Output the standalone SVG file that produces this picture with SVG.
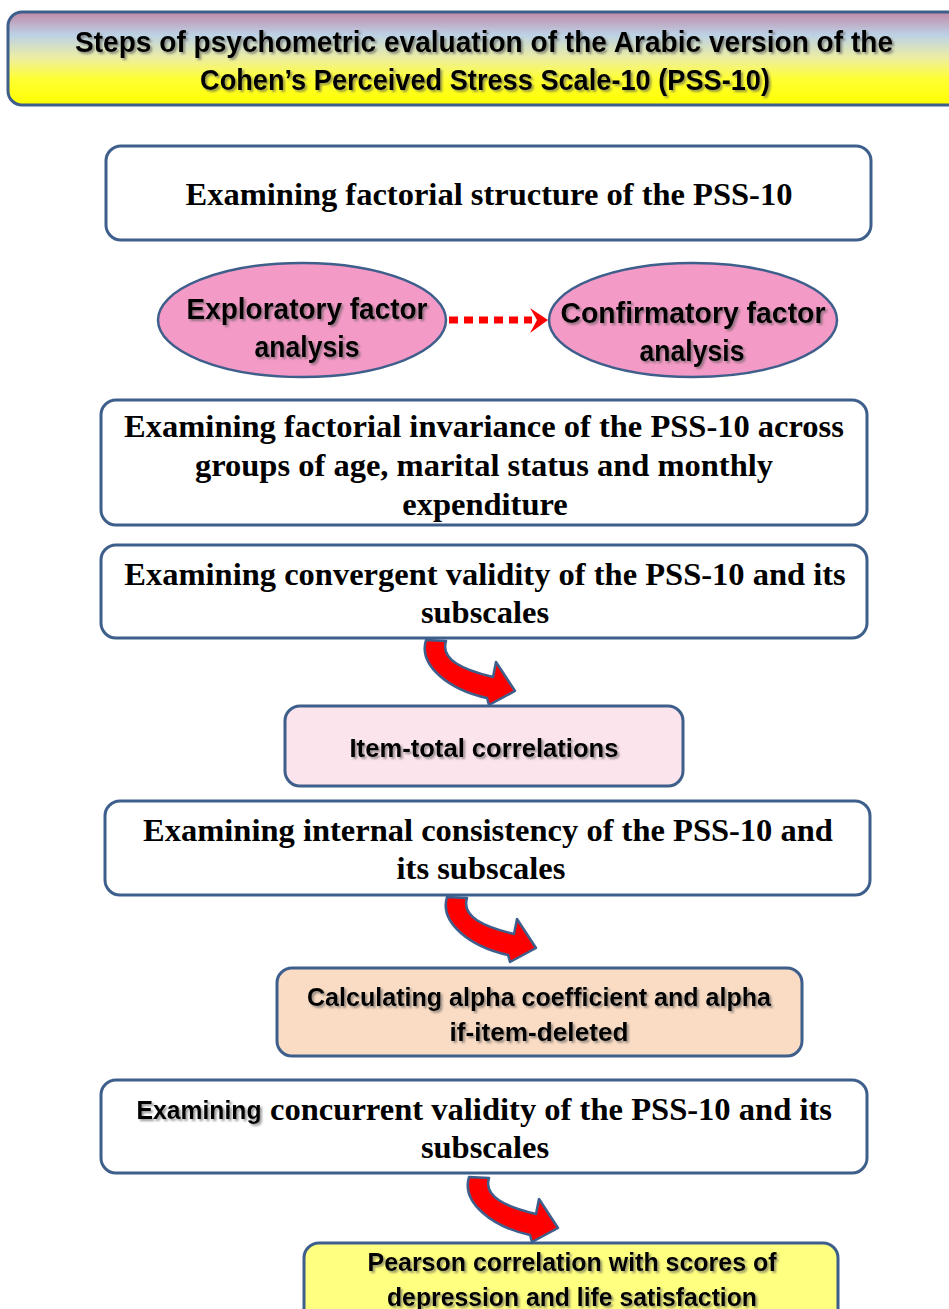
<svg xmlns="http://www.w3.org/2000/svg" width="949" height="1309" viewBox="0 0 949 1309">
<defs>
<linearGradient id="titleGrad" x1="0" y1="0" x2="0" y2="1">
<stop offset="0" stop-color="#c08aa8"/>
<stop offset="0.25" stop-color="#bcd2e6"/>
<stop offset="0.5" stop-color="#eeeea0"/>
<stop offset="0.72" stop-color="#ffff33"/>
<stop offset="1" stop-color="#ffff00"/>
</linearGradient>
<filter id="shadow" x="-5%" y="-20%" width="110%" height="150%">
<feDropShadow dx="2" dy="2" stdDeviation="1.2" flood-color="#555" flood-opacity="0.6"/>
</filter>
<path id="curveArrow" d="M 426,640 C 418,666 450,690 487,698 L 489,705 L 515,691 L 496,662 L 493,677 C 464,670 440,660 446,641 Z"/>
</defs>
<style>
.box{fill:#ffffff;stroke:#3e5f8c;stroke-width:3}
.ell{fill:#f49ac6;stroke:#3e5f8c;stroke-width:2.5}
.serif{font-family:"Liberation Serif","Times New Roman",serif;font-weight:bold;font-size:32.5px;fill:#000;text-anchor:middle}
.sans{font-family:"Liberation Sans",Arial,sans-serif;font-weight:bold;fill:#000;text-anchor:middle;filter:url(#shadow)}
.arrow{fill:#ff0000;stroke:#3e5f8c;stroke-width:2.5;stroke-linejoin:round}
</style>

<g id="title">
<rect x="8" y="12" width="960" height="93" rx="14" fill="url(#titleGrad)" stroke="#3e5f8c" stroke-width="3"/>
<text class="sans" x="484" y="52" font-size="29" textLength="818" lengthAdjust="spacingAndGlyphs">Steps of psychometric evaluation of the Arabic version of the</text>
<text class="sans" x="485" y="90" font-size="29" textLength="570" lengthAdjust="spacingAndGlyphs">Cohen’s Perceived Stress Scale-10 (PSS-10)</text>
</g>

<g id="factorial-structure">
<rect class="box" x="106" y="146" width="765" height="94" rx="15"/>
<text class="serif" x="489" y="205">Examining factorial structure of the PSS-10</text>
</g>

<g id="efa">
<ellipse class="ell" cx="302" cy="320" rx="144" ry="57"/>
<text class="sans" x="307" y="319" font-size="29" textLength="241" lengthAdjust="spacingAndGlyphs">Exploratory factor</text>
<text class="sans" x="307" y="357" font-size="29" textLength="105" lengthAdjust="spacingAndGlyphs">analysis</text>
</g>

<g id="cfa">
<ellipse class="ell" cx="693" cy="320" rx="144" ry="57"/>
<text class="sans" x="693" y="323" font-size="29" textLength="265" lengthAdjust="spacingAndGlyphs">Confirmatory factor</text>
<text class="sans" x="692" y="361" font-size="29" textLength="105" lengthAdjust="spacingAndGlyphs">analysis</text>
</g>

<g id="factorial-invariance">
<rect class="box" x="101" y="400" width="766" height="125" rx="15"/>
<text class="serif" x="484" y="437">Examining factorial invariance of the PSS-10 across</text>
<text class="serif" x="484" y="476">groups of age, marital status and monthly</text>
<text class="serif" x="485" y="515">expenditure</text>
</g>

<g id="convergent-validity">
<rect class="box" x="101" y="545" width="766" height="93" rx="15"/>
<text class="serif" x="485" y="585">Examining convergent validity of the PSS-10 and its</text>
<text class="serif" x="485" y="623">subscales</text>
</g>

<g id="item-total">
<rect class="box" x="285" y="706" width="398" height="80" rx="15" style="fill:#fce4ec"/>
<text class="sans" x="484" y="757" font-size="25" textLength="269" lengthAdjust="spacingAndGlyphs">Item-total correlations</text>
</g>

<g id="internal-consistency">
<rect class="box" x="105" y="801" width="765" height="94" rx="15"/>
<text class="serif" x="488" y="841">Examining internal consistency of the PSS-10 and</text>
<text class="serif" x="481" y="879">its subscales</text>
</g>

<g id="alpha">
<rect class="box" x="277" y="968" width="525" height="88" rx="15" style="fill:#fadcc4"/>
<text class="sans" x="539" y="1006" font-size="25" textLength="464" lengthAdjust="spacingAndGlyphs">Calculating alpha coefficient and alpha</text>
<text class="sans" x="539" y="1041" font-size="25" textLength="179" lengthAdjust="spacingAndGlyphs">if-item-deleted</text>
</g>

<g id="concurrent-validity">
<rect class="box" x="101" y="1080" width="766" height="93" rx="15"/>
<text class="sans" x="199" y="1119" font-size="25" textLength="125" lengthAdjust="spacingAndGlyphs">Examining</text>
<text class="serif" x="551" y="1120" textLength="562" lengthAdjust="spacingAndGlyphs">concurrent validity of the PSS-10 and its</text>
<text class="serif" x="485" y="1158">subscales</text>
</g>

<g id="pearson">
<rect class="box" x="304" y="1243" width="534" height="80" rx="15" style="fill:#ffff80"/>
<text class="sans" x="572" y="1271" font-size="25" textLength="409" lengthAdjust="spacingAndGlyphs">Pearson correlation with scores of</text>
<text class="sans" x="572" y="1306" font-size="25" textLength="370" lengthAdjust="spacingAndGlyphs">depression and life satisfaction</text>
</g>

<g id="connectors">
<line x1="449" y1="320" x2="532" y2="320" stroke="#ff0000" stroke-width="7" stroke-dasharray="9,6"/>
<path d="M 548,320 L 530,308 L 537,320 L 530,333 Z" fill="#ff0000"/>
<use href="#curveArrow" class="arrow"/>
<use href="#curveArrow" class="arrow" transform="translate(21,257)"/>
<use href="#curveArrow" class="arrow" transform="translate(43,537)"/>
</g>
</svg>
